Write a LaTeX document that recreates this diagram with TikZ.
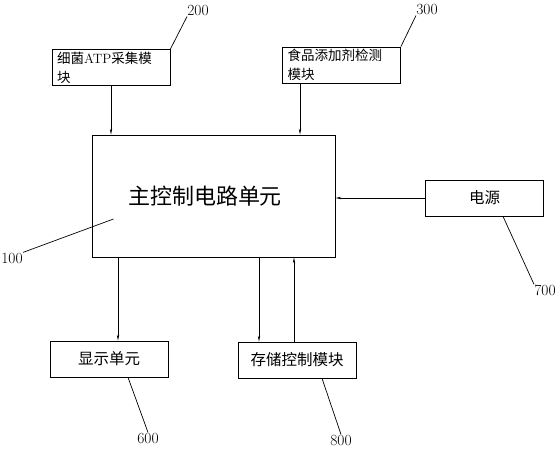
\documentclass[tikz,border=0pt]{standalone}
\usepackage{fontspec}
\newfontfamily\cjk{Noto Sans CJK SC}
\usetikzlibrary{arrows.meta,positioning}

\begin{document}
\begin{tikzpicture}[x=1pt,y=-1pt,line width=0.7pt,>={Stealth[length=6pt,width=2.4pt]},
  box/.style={draw,minimum width=118pt,minimum height=36pt,inner sep=0pt,font=\cjk\fontsize{15.5}{19}\selectfont},
  topbox/.style={box,text width=108pt,align=left,font=\cjk\fontsize{13.5}{19}\selectfont},
  tag/.style={inner sep=0pt,font=\fontsize{15.5}{15.5}\selectfont}]

    \useasboundingbox (0,0) rectangle (558,450);

    \node[draw,minimum width=243pt,minimum height=122pt,font=\cjk\fontsize{22}{22}\selectfont] (main) at (213.5,196) {\hspace*{-17pt}主控制电路单元};
    \node[topbox] (atp) at (111,67.5) {细菌{\rmfamily ATP}采集模\\块};
    \node[topbox] (add) at (341.5,65) {食品添加剂检测\\模块};
    \node[box] (pwr) at (484.5,198) {电源};
    \node[box] (disp) at (109,359) {显示单元};
    \node[box] (stor) at (297,360) {存储控制模块};

    \node[tag] (n100) at (12,258) {100};
    \node[tag] (n200) at (198,11) {200};
    \node[tag] (n300) at (427,10) {300};
    \node[tag] (n600) at (148,438) {600};
    \node[tag] (n700) at (545,290) {700};
    \node[tag] (n800) at (341,440) {800};

    \draw[->] (atp) -- (atp |- main.north);
    \draw[->] ([xshift=-41.5pt]add.south) -- ([xshift=-41.5pt]add.south |- main.north);
    \draw[->] (pwr.west) -- (pwr.west -| main.east);
    \draw[->] ([xshift=9pt]disp.north |- main.south) -- ([xshift=9pt]disp.north);
    \draw[->] ([xshift=-38pt]stor.north |- main.south) -- ([xshift=-38pt]stor.north);
    \draw[->] ([xshift=-3pt]stor.north) -- ([xshift=-3pt]stor.north |- main.south);

    % leaders
    \draw ([shift={(-100,23)}]main.center) -- (n100.north east);
    \draw (atp.north east) -- (n200.south west);
    \draw (add.north east) -- (n300.south west);
    \draw ([xshift=19pt]disp.south) -- (n600.north);
    \draw ([xshift=18.5pt]pwr.south) -- (n700.north west);
    \draw ([xshift=25pt]stor.south) -- (n800.north);
  \end{tikzpicture}
\end{document}
